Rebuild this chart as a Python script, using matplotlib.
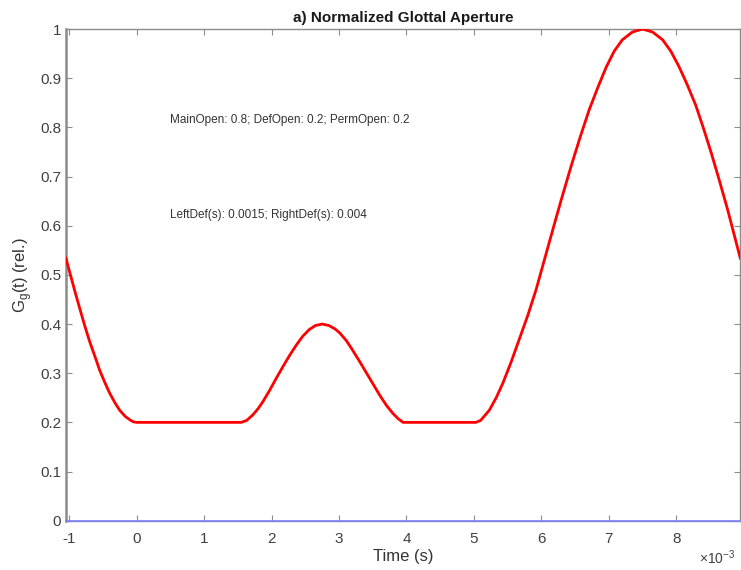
import matplotlib
matplotlib.use("Agg")
import matplotlib.pyplot as plt

# Time in ms (axis shown with x10^-3 multiplier)
time_ms = [-1.05, -0.98, -0.91, -0.84, -0.77, -0.70, -0.62, -0.55, -0.47, -0.40,
           -0.32, -0.25, -0.17, -0.10, -0.05, 0.00, 0.50, 1.00, 1.55,
           1.63, 1.72, 1.80, 1.87, 1.97, 2.07, 2.17, 2.27, 2.37, 2.46, 2.56, 2.65,
           2.75, 2.85, 2.94, 3.01, 3.11, 3.20, 3.30, 3.40, 3.50, 3.60, 3.70, 3.80,
           3.88, 3.95, 4.50, 5.03,
           5.10, 5.23, 5.33, 5.43, 5.55, 5.67, 5.80, 5.92, 6.05, 6.17, 6.30, 6.45,
           6.58, 6.71, 6.84, 6.96, 7.08, 7.20, 7.35, 7.50, 7.65, 7.80, 7.92, 8.04,
           8.16, 8.29, 8.40, 8.52, 8.64, 8.76, 8.88, 8.95]
aperture = [0.534, 0.498, 0.463, 0.429, 0.396, 0.365, 0.334, 0.306, 0.280, 0.259,
            0.239, 0.224, 0.212, 0.205, 0.201, 0.200, 0.200, 0.200, 0.200,
            0.204, 0.215, 0.228, 0.242, 0.265, 0.290, 0.314, 0.337, 0.358, 0.375, 0.389, 0.397,
            0.400, 0.397, 0.390, 0.382, 0.366, 0.347, 0.325, 0.302, 0.279, 0.256, 0.235, 0.218,
            0.207, 0.200, 0.200, 0.200,
            0.204, 0.225, 0.250, 0.280, 0.322, 0.368, 0.418, 0.469, 0.533, 0.592, 0.655, 0.725,
            0.782, 0.836, 0.882, 0.922, 0.955, 0.978, 0.994, 1.000, 0.994, 0.978, 0.955, 0.924,
            0.888, 0.845, 0.800, 0.748, 0.692, 0.634, 0.571, 0.534]
baseline_t = [-1.05, 8.95]
baseline_v = [0.0, 0.0]

x_ticks = [-1, 0, 1, 2, 3, 4, 5, 6, 7, 8]
y_ticks = [0, 0.1, 0.2, 0.3, 0.4, 0.5, 0.6, 0.7, 0.8, 0.9, 1.0]
y_ticklabels = ["0", "0.1", "0.2", "0.3", "0.4", "0.5", "0.6", "0.7", "0.8", "0.9", "1"]

title = "a) Normalized Glottal Aperture"
note1 = "MainOpen: 0.8; DefOpen: 0.2; PermOpen: 0.2"
note2 = "LeftDef(s): 0.0015; RightDef(s): 0.004"

plt.rcParams['font.family'] = ['Liberation Sans', 'DejaVu Sans']

fig = plt.figure(figsize=(7.41, 5.70), dpi=100)
ax = fig.add_axes([0.089, 0.0865, 0.910, 0.8625])

ax.plot(baseline_t, baseline_v, color='#7f7fff', lw=1.2, zorder=3, clip_on=False)
ax.plot(time_ms, aperture, color='#ff0000', lw=2.0, zorder=4,
        solid_joinstyle='round')

ax.set_xlim(-1.05, 8.95)
ax.set_ylim(0, 1)
ax.set_xticks(x_ticks)
ax.set_xticklabels([str(v) for v in x_ticks])
ax.set_yticks(y_ticks)
ax.set_yticklabels(y_ticklabels)

for s in ax.spines.values():
    s.set_color('#8c8c8c')
    s.set_linewidth(1.0)
ax.spines['left'].set_linewidth(1.8)

ax.tick_params(direction='in', length=4, width=0.8, colors='#8c8c8c',
               labelcolor='#404040', labelsize=11, top=True, right=True)
ax.tick_params(axis='x', pad=8)

ax.set_title(title, fontsize=11, fontweight='bold', color='#1a1a1a', pad=5)
ax.set_xlabel("Time (s)", fontsize=12, color='#333333', labelpad=2)
ax.set_ylabel("G$_\\mathregular{g}$(t) (rel.)", fontsize=12, color='#333333', labelpad=4)

ax.text(0.49, 0.815, note1, fontsize=8.5, color='#333333', va='center', ha='left')
ax.text(0.49, 0.622, note2, fontsize=8.5, color='#333333', va='center', ha='left')

fig.text(0.943, 0.005, "\u00d710$^{\\mathregular{-3}}$", fontsize=10, color='#404040',
         ha='left', va='bottom')

fig.savefig("out.png", dpi=100)
